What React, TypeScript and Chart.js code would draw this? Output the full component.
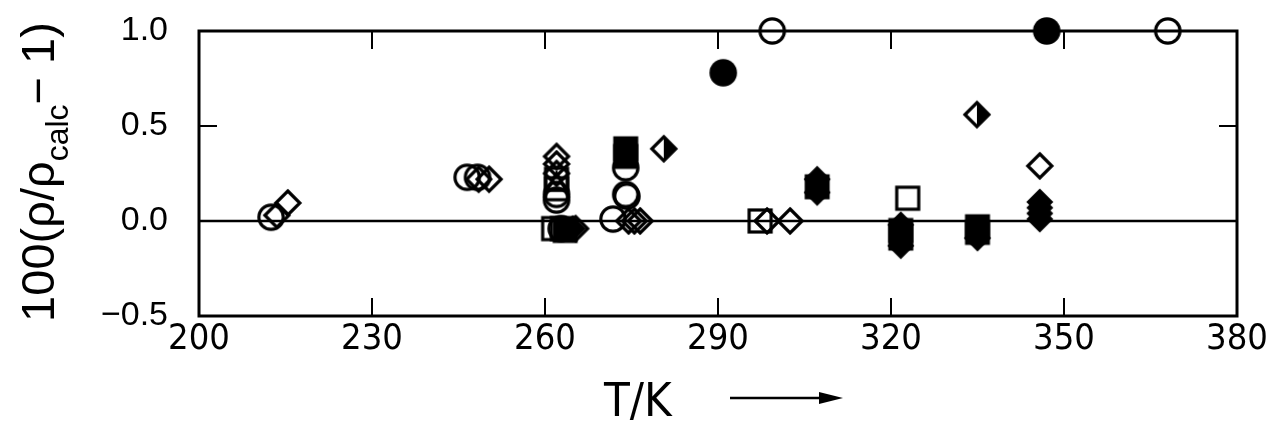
import React, { useEffect, useRef } from 'react';
import { Chart, registerables } from 'chart.js';

Chart.register(...registerables);

// Axis ticks
const xTickValues = [200, 230, 260, 290, 320, 350, 380];
const yTickValues = [-0.5, 0.0, 0.5, 1.0];
const xInnerTicks = [230, 260, 290, 320, 350];
const yInnerTicks = [0.0, 0.5];

// Open circles
const openCircleT = [212.5, 246.5, 248.3, 262.0, 262.0, 262.8, 271.8, 274.0, 274.0, 274.2, 299.4, 368.0];
const openCircleDev = [0.02, 0.23, 0.23, 0.14, 0.11, -0.04, 0.01, 0.28, 0.14, 0.13, 1.0, 1.0];

// Filled circles
const filledCircleT = [290.9, 347.0];
const filledCircleDev = [0.78, 1.0];

// Open squares
const openSquareT = [262.0, 262.0, 261.5, 263.0, 297.3, 322.9];
const openSquareDev = [0.22, 0.17, -0.04, -0.04, 0.0, 0.12];

// Filled squares
const filledSquareT = [274.0, 274.0, 263.5, 307.2, 321.7, 321.7, 335.0, 335.0];
const filledSquareDev = [0.38, 0.34, -0.05, 0.18, -0.05, -0.09, -0.03, -0.06];

// Open diamonds
const openDiamondT = [213.5, 215.4, 248.5, 250.3, 262.0, 262.0, 262.0, 265.3, 274.5, 275.5, 276.5, 298.5, 302.5, 345.8];
const openDiamondDev = [0.03, 0.095, 0.22, 0.22, 0.34, 0.30, 0.25, -0.04, 0.0, 0.0, 0.0, 0.0, 0.0, 0.29];

// Filled diamonds
const filledDiamondT = [264.8, 307.2, 307.2, 321.7, 321.7, 335.0, 345.8, 345.8, 345.8, 345.8];
const filledDiamondDev = [-0.04, 0.22, 0.15, -0.02, -0.13, -0.09, 0.10, 0.07, 0.04, 0.01];

// Half-filled diamonds
const halfDiamondT = [280.6, 334.9];
const halfDiamondDev = [0.38, 0.56];

// Open triangles
const openTriangleT = [274.0, 262.0];
const openTriangleDev = [0.36, 0.20];

const SANS = '"Liberation Sans", Arial, Helvetica, sans-serif';
const COND = '"DejaVu Sans Condensed", "Liberation Sans Narrow", "Liberation Sans", sans-serif';

function makeMarker(kind: string): HTMLCanvasElement {
  const s = 36;
  const c = document.createElement('canvas');
  c.width = s;
  c.height = s;
  const g = c.getContext('2d')!;
  const m = s / 2;
  g.lineWidth = 3.2;
  g.strokeStyle = '#000';
  g.fillStyle = '#000';
  const diamond = (r: number) => {
    g.beginPath();
    g.moveTo(m, m - r);
    g.lineTo(m + r, m);
    g.lineTo(m, m + r);
    g.lineTo(m - r, m);
    g.closePath();
  };
  switch (kind) {
    case 'circleOpen':
      g.beginPath();
      g.arc(m, m, 12.2, 0, Math.PI * 2);
      g.stroke();
      break;
    case 'circleFilled':
      g.beginPath();
      g.arc(m, m, 13.8, 0, Math.PI * 2);
      g.fill();
      break;
    case 'squareOpen':
      g.strokeRect(m - 11, m - 11, 22, 22);
      break;
    case 'squareFilled':
      g.fillRect(m - 12.5, m - 12.5, 25, 25);
      break;
    case 'diamondOpen':
      diamond(12);
      g.stroke();
      break;
    case 'diamondFilled':
      diamond(13.5);
      g.fill();
      break;
    case 'diamondHalf':
      diamond(12);
      g.stroke();
      g.beginPath();
      g.moveTo(m, m - 12);
      g.lineTo(m + 12, m);
      g.lineTo(m, m + 12);
      g.closePath();
      g.fill();
      break;
    case 'triangleOpen':
      g.beginPath();
      g.moveTo(m, m - 10);
      g.lineTo(m + 9, m + 7);
      g.lineTo(m - 9, m + 7);
      g.closePath();
      g.stroke();
      break;
  }
  return c;
}

function pts(xs: number[], ys: number[]) {
  return xs.map((x, i) => ({ x, y: ys[i] }));
}

const framePlugin = {
  id: 'framePlugin',
  beforeDatasetsDraw(chart: any) {
    const { ctx, chartArea: a, scales } = chart;
    const x = scales.x;
    const y = scales.y;
    ctx.save();
    ctx.strokeStyle = '#000';
    ctx.lineCap = 'butt';
    const line = (x1: number, y1: number, x2: number, y2: number) => {
      ctx.beginPath();
      ctx.moveTo(x1, y1);
      ctx.lineTo(x2, y2);
      ctx.stroke();
    };
    ctx.lineWidth = 2.5;
    const y0 = y.getPixelForValue(0);
    line(a.left, y0, a.right, y0);
    ctx.lineWidth = 2;
    const tl = 18;
    xInnerTicks.forEach((t) => {
      const px = x.getPixelForValue(t);
      line(px, a.bottom, px, a.bottom - tl);
      line(px, a.top, px, a.top + tl);
    });
    yInnerTicks.forEach((v) => {
      const py = y.getPixelForValue(v);
      line(a.left, py, a.left + tl, py);
      line(a.right, py, a.right - tl, py);
    });
    ctx.lineWidth = 3;
    ctx.strokeRect(a.left, a.top, a.right - a.left, a.bottom - a.top);
    ctx.restore();
  },
  afterDraw(chart: any) {
    const { ctx } = chart;
    ctx.save();
    ctx.fillStyle = '#000';
    ctx.strokeStyle = '#000';
    // x title
    ctx.font = '47px ' + COND;
    ctx.textAlign = 'left';
    ctx.textBaseline = 'alphabetic';
    ctx.fillText('T/K', 604, 416);
    ctx.lineWidth = 2.5;
    ctx.beginPath();
    ctx.moveTo(730, 398);
    ctx.lineTo(826, 398);
    ctx.stroke();
    ctx.beginPath();
    ctx.moveTo(843, 398);
    ctx.lineTo(819, 392);
    ctx.lineTo(819, 404);
    ctx.closePath();
    ctx.fill();
    // y title
    const mainFont = '47px ' + SANS;
    const subFont = '32px ' + SANS;
    const parts: [string, string, number][] = [
      ['100(\u03C1/\u03C1', mainFont, 0],
      ['calc', subFont, 14],
      ['\u2212 1)', mainFont, 0],
    ];
    let total = 0;
    const widths = parts.map(([t, f]) => {
      ctx.font = f;
      const w = ctx.measureText(t).width;
      total += w;
      return w;
    });
    ctx.translate(54, 172);
    ctx.rotate(-Math.PI / 2);
    let cx = -total / 2;
    parts.forEach(([t, f, off], i) => {
      ctx.font = f;
      ctx.fillText(t, cx, off);
      cx += widths[i];
    });
    ctx.restore();
  },
};

export default function App() {
  const ref = useRef<HTMLCanvasElement | null>(null);

  useEffect(() => {
    document.body.style.margin = '0';
    const canvas = ref.current!;
    const mk = (label: string, xs: number[], ys: number[], kind: string, order: number) => ({
      label,
      data: pts(xs, ys),
      pointStyle: makeMarker(kind),
      pointRadius: 13,
      pointHoverRadius: 13,
      showLine: false,
      clip: false as any,
      order,
    });
    const zeroPad = (s: any) => {
      s.paddingTop = 0;
      s.paddingBottom = 0;
      s.paddingLeft = 0;
      s.paddingRight = 0;
    };
    const chart = new Chart(canvas, {
      type: 'scatter',
      data: {
        datasets: [
          mk('open circle', openCircleT, openCircleDev, 'circleOpen', 1),
          mk('open square', openSquareT, openSquareDev, 'squareOpen', 2),
          mk('open diamond', openDiamondT, openDiamondDev, 'diamondOpen', 3),
          mk('open triangle', openTriangleT, openTriangleDev, 'triangleOpen', 4),
          mk('half diamond', halfDiamondT, halfDiamondDev, 'diamondHalf', 5),
          mk('filled diamond', filledDiamondT, filledDiamondDev, 'diamondFilled', 6),
          mk('filled square', filledSquareT, filledSquareDev, 'squareFilled', 7),
          mk('filled circle', filledCircleT, filledCircleDev, 'circleFilled', 8),
        ] as any,
      },
      options: {
        responsive: false,
        animation: false,
        events: [],
        layout: { autoPadding: false, padding: { left: 0, top: 31, right: 38, bottom: 0 } },
        plugins: {
          legend: { display: false },
          tooltip: { enabled: false },
        },
        scales: {
          x: {
            type: 'linear',
            min: 200,
            max: 380,
            afterBuildTicks: (s: any) => {
              s.ticks = xTickValues.map((v) => ({ value: v }));
            },
            afterFit: (s: any) => {
              s.height = 123;
              zeroPad(s);
            },
            grid: { display: false, drawTicks: false },
            border: { display: false },
            ticks: {
              color: '#000',
              padding: 2,
              maxRotation: 0,
              autoSkip: false,
              font: { family: COND, size: 36 },
              callback: (v: any) => String(v),
            },
          },
          y: {
            type: 'linear',
            min: -0.5,
            max: 1.0,
            afterBuildTicks: (s: any) => {
              s.ticks = yTickValues.map((v) => ({ value: v }));
            },
            afterFit: (s: any) => {
              s.width = 199;
              zeroPad(s);
            },
            grid: { display: false, drawTicks: false },
            border: { display: false },
            ticks: {
              color: '#000',
              padding: 31,
              autoSkip: false,
              font: { family: SANS, size: 34 },
              callback: (v: any) => Number(v).toFixed(1).replace('-', '\u2212'),
            },
          },
        },
      },
      plugins: [framePlugin],
    });
    return () => chart.destroy();
  }, []);

  return (
    <div style={{ position: 'absolute', left: 0, top: 0, width: 1275, height: 439, background: '#fff' }}>
      <canvas ref={ref} width={1275} height={439} style={{ display: 'block' }} />
    </div>
  );
}
